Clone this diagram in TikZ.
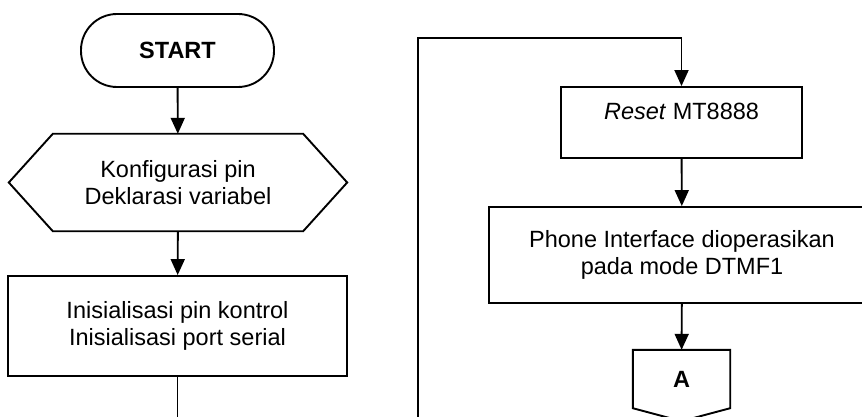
\documentclass[tikz,border=0pt]{standalone}
\usepackage{fontspec}
\setmainfont{Liberation Sans}
\usetikzlibrary{arrows.meta,calc}
\begin{document}
\begin{tikzpicture}[x=1pt,y=-1pt,
  every node/.style={font=\fontsize{23.5}{27}\selectfont, align=center, inner sep=0pt},
  ln/.style={line width=1.9pt, line join=miter},
  arr/.style={ln, -{Triangle[length=16pt,width=14pt]}},
  boxnode/.style={draw, ln, rectangle},
  termnode/.style={draw, ln, rectangle, rounded corners=36pt},
  plain/.style={rectangle}
]
\useasboundingbox (0,0) rectangle (862,417);

% left column
\node[termnode, minimum width=193pt, minimum height=73pt] (start) at (177.5,50.5) {\textbf{START}};
\node[plain, minimum width=250pt, minimum height=97pt] (prep) at (178,182.5) {Konfigurasi pin\\Deklarasi variabel};
\draw[ln] (prep.north west) -- (prep.north east) -- ($(prep.east)+(44,0)$) -- (prep.south east) -- (prep.south west) -- ($(prep.west)+(-44,0)$) -- cycle;
\node[boxnode, minimum width=339pt, minimum height=100pt] (init) at (177.5,326) {Inisialisasi pin kontrol\\Inisialisasi port serial};
\coordinate (leftend) at (177.5,420);

\draw[arr] (start) -- (prep);
\draw[arr] (prep) -- (init);
\draw[ln] (init.south) -- (leftend);

% right column
\node[boxnode, minimum width=241pt, minimum height=71pt] (reset) at (681.5,122.5) {\textit{Reset} MT8888\\[-5pt]\mbox{}};
\node[boxnode, minimum width=386pt, minimum height=96pt] (phone) at (682,255) {Phone Interface dioperasikan\\pada mode DTMF1};
\node[plain, minimum width=97pt, minimum height=58pt] (conA) at (681.5,379) {\textbf{A}};
\draw[ln] (conA.north west) -- (conA.north east) -- (conA.south east) -- ($(conA.south)+(0,13)$) -- (conA.south west) -- cycle;

\coordinate (loopstart) at (418,420);
\coordinate (looptop) at (418,38);
\coordinate (loopcorner) at (681.5,38);

\draw[arr] (loopstart) -- (looptop) -- (loopcorner) -- (reset.north);
\draw[arr] (reset) -- (phone);
\draw[arr] (phone) -- (conA);
\end{tikzpicture}
\end{document}
